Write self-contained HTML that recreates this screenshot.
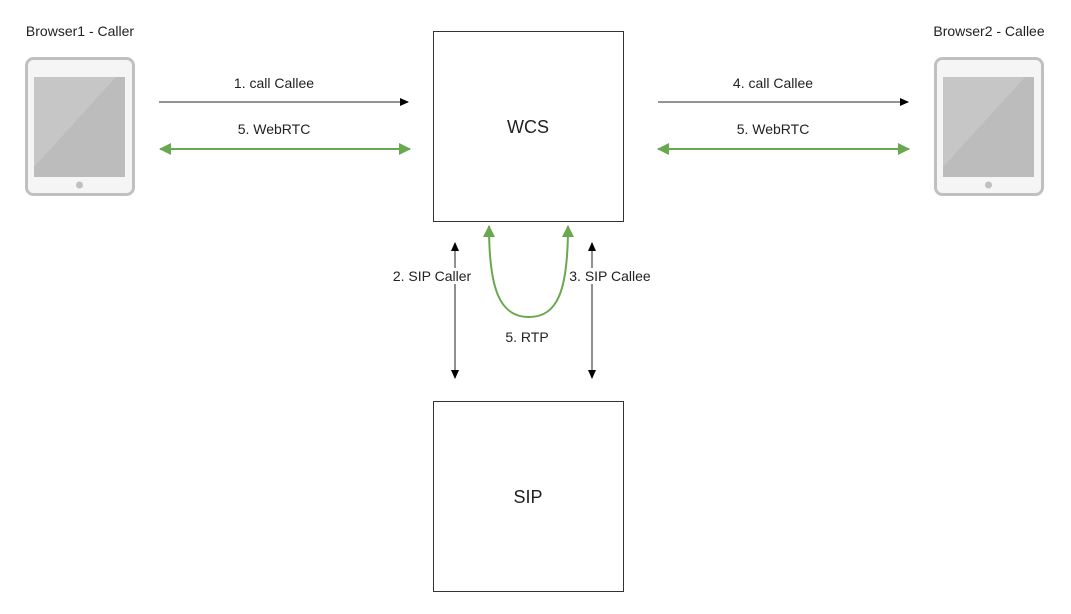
<!DOCTYPE html>
<html><head><meta charset="utf-8"><style>
body{margin:0;background:#fff;}
svg text{font-family:"Liberation Sans",Arial,sans-serif;font-size:14px;fill:#222;}
</style></head><body>
<svg width="1071" height="609" viewBox="0 0 1071 609" xmlns="http://www.w3.org/2000/svg">
<defs>
<marker id="ab" markerWidth="10" markerHeight="10" refX="8" refY="4" orient="auto" markerUnits="userSpaceOnUse"><path d="M0,0 L9,4 L0,8 Z" fill="#000"/></marker>
<marker id="ag" markerWidth="14" markerHeight="14" refX="11" refY="6" orient="auto-start-reverse" markerUnits="userSpaceOnUse"><path d="M0,0 L12,6 L0,12 Z" fill="#6aa84f"/></marker>
<marker id="abr" markerWidth="10" markerHeight="10" refX="8" refY="4" orient="auto-start-reverse" markerUnits="userSpaceOnUse"><path d="M0,0 L9,4 L0,8 Z" fill="#000"/></marker>
<linearGradient id="scr" x1="0" y1="0" x2="1" y2="1"><stop offset="0.45" stop-color="#c6c6c6"/><stop offset="0.45" stop-color="#bcbcbc"/></linearGradient>
</defs>
<g>
<rect x="26.5" y="58.5" width="107" height="136" rx="7" fill="#f5f5f5" stroke="#c0c0c0" stroke-width="3"/>
<rect x="34" y="77" width="91" height="100" fill="url(#scr)"/>
<circle cx="79.5" cy="185" r="3.5" fill="#c0c0c0"/>
</g>
<g>
<rect x="935.5" y="58.5" width="107" height="136" rx="7" fill="#f5f5f5" stroke="#c0c0c0" stroke-width="3"/>
<rect x="943" y="77" width="91" height="100" fill="url(#scr)"/>
<circle cx="988.5" cy="185" r="3.5" fill="#c0c0c0"/>
</g>
<text x="80" y="36" text-anchor="middle">Browser1 - Caller</text>
<text x="989" y="36" text-anchor="middle">Browser2 - Callee</text>
<rect x="433.5" y="31.5" width="190" height="190" fill="#fff" stroke="#333"/>
<rect x="433.5" y="401.5" width="190" height="190" fill="#fff" stroke="#333"/>
<text x="528" y="133" text-anchor="middle" style="font-size:18px">WCS</text>
<text x="528" y="503" text-anchor="middle" style="font-size:18px">SIP</text>
<line x1="159" y1="102" x2="408" y2="102" stroke="#555" stroke-width="1.3" marker-end="url(#ab)"/>
<line x1="658" y1="102" x2="908" y2="102" stroke="#555" stroke-width="1.3" marker-end="url(#ab)"/>
<line x1="160" y1="149" x2="410" y2="149" stroke="#6aa84f" stroke-width="2" marker-start="url(#ag)" marker-end="url(#ag)"/>
<line x1="658" y1="149" x2="909" y2="149" stroke="#6aa84f" stroke-width="2" marker-start="url(#ag)" marker-end="url(#ag)"/>
<text x="274" y="88" text-anchor="middle">1. call Callee</text>
<text x="274" y="134" text-anchor="middle">5. WebRTC</text>
<text x="773" y="88" text-anchor="middle">4. call Callee</text>
<text x="773" y="134" text-anchor="middle">5. WebRTC</text>
<line x1="455" y1="243" x2="455" y2="378" stroke="#555" stroke-width="1.3" marker-start="url(#abr)" marker-end="url(#abr)"/>
<line x1="592" y1="243" x2="592" y2="378" stroke="#555" stroke-width="1.3" marker-start="url(#abr)" marker-end="url(#abr)"/>
<rect x="390" y="268" width="85" height="16" fill="#fff"/>
<rect x="567" y="268" width="88" height="16" fill="#fff"/>
<text x="432" y="281" text-anchor="middle">2. SIP Caller</text>
<text x="610" y="281" text-anchor="middle">3. SIP Callee</text>
<path d="M489,226 C489,290 500,317 529,317 C558,317 568,290 568,226" fill="none" stroke="#6aa84f" stroke-width="2" marker-start="url(#ag)" marker-end="url(#ag)"/>
<text x="527" y="342" text-anchor="middle">5. RTP</text>
</svg>
</body></html>
